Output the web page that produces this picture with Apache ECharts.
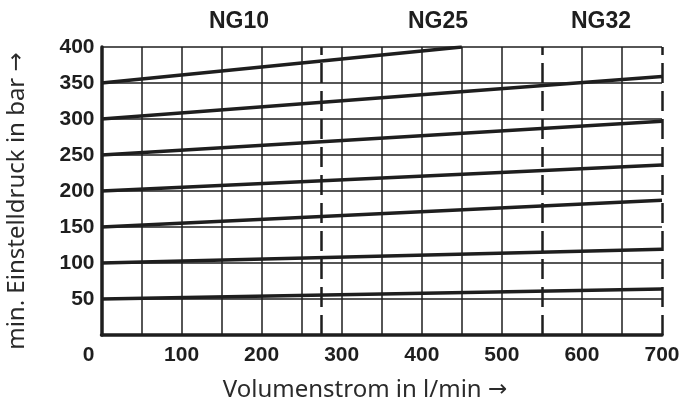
<!DOCTYPE html>
<html>
<head>
<meta charset="utf-8">
<script src="https://cdn.jsdelivr.net/npm/echarts@6/dist/echarts.min.js"></script>
<style>
html,body{margin:0;padding:0;background:#fff;}
#chart{width:685px;height:405px;}
</style>
</head>
<body>
<div id="chart"></div>
<script>
// Data
var line50  = [[0, 50], [700, 64]];
var line100 = [[0, 100], [700, 119]];
var line150 = [[0, 150], [700, 187]];
var line200 = [[0, 200], [700, 236]];
var line250 = [[0, 250], [700, 297]];
var line300 = [[0, 300], [700, 359]];
var line350 = [[0, 350], [450, 400]];
var ngBounds = [275, 550, 700];
var ngLabels = ['NG10', 'NG25', 'NG32'];
var xAxisName = 'Volumenstrom in l/min';
var yAxisName = 'min. Einstelldruck in bar';
var arrow = '→';

var ink = '#1e1e1e';
var lineWidth = 3.5;
var seriesList = [line50, line100, line150, line200, line250, line300, line350];

// split line colours: hide the solid grid line where a dashed boundary is drawn
var xSplitColors = [];
for (var v = 0; v <= 700; v += 50) {
  xSplitColors.push(ngBounds.indexOf(v) >= 0 ? 'rgba(0,0,0,0)' : ink);
}

var series = seriesList.map(function (d, i) {
  var s = {
    type: 'line',
    data: d,
    symbol: 'none',
    silent: true,
    lineStyle: { color: ink, width: lineWidth },
    z: 5
  };
  if (i === 0) {
    s.markLine = {
      silent: true,
      symbol: 'none',
      label: { show: false },
      lineStyle: { color: ink, width: 2.5, type: [20, 8] },
      data: ngBounds.map(function (b) { return { xAxis: b }; })
    };
  }
  return s;
});

var labelFont = { fontFamily: 'Liberation Sans, Arial, sans-serif', fontWeight: 'bold', fontSize: 21, color: ink };
var nameRich = {
  t: { fontFamily: 'Noto Sans', fontSize: 24, fill: '#2a2a2a', color: '#2a2a2a' },
  a: { fontFamily: 'DejaVu Sans', fontSize: 23, fill: '#2a2a2a', color: '#2a2a2a' }
};

var chart = echarts.init(document.getElementById('chart'), null, { renderer: 'canvas' });
chart.setOption({
  animation: false,
  backgroundColor: '#fff',
  grid: { left: 101.5, right: 23, top: 47, bottom: 70, containLabel: false },
  xAxis: {
    type: 'value', min: 0, max: 700, interval: 50,
    axisLine: { show: true, onZero: false, lineStyle: { color: ink, width: 3.5 } },
    axisTick: { show: false },
    splitLine: { show: true, lineStyle: { color: xSplitColors, width: 1.5 } },
    axisLabel: Object.assign({}, labelFont, {
      margin: 10,
      formatter: function (v) {
        if (v % 100 !== 0) return '';
        return v === 0 ? '{z|0}' : String(v);
      },
      rich: { z: Object.assign({}, labelFont, { padding: [0, 26, 0, 0] }) }
    })
  },
  yAxis: {
    type: 'value', min: 0, max: 400, interval: 50,
    axisLine: { show: true, onZero: false, lineStyle: { color: ink, width: 3.5 } },
    axisTick: { show: false },
    splitLine: { show: true, lineStyle: { color: ink, width: 1.5 } },
    axisLabel: Object.assign({}, labelFont, {
      margin: 7,
      formatter: function (v) { return v === 0 ? '' : String(v); }
    })
  },
  graphic: [
    { type: 'text', x: 239, y: 22, style: { text: ngLabels[0], fill: ink, font: 'bold 23px "Liberation Sans", Arial, sans-serif', align: 'center', verticalAlign: 'middle', textAlign: 'center', textVerticalAlign: 'middle' } },
    { type: 'text', x: 438, y: 22, style: { text: ngLabels[1], fill: ink, font: 'bold 23px "Liberation Sans", Arial, sans-serif', align: 'center', verticalAlign: 'middle', textAlign: 'center', textVerticalAlign: 'middle' } },
    { type: 'text', x: 601, y: 22, style: { text: ngLabels[2], fill: ink, font: 'bold 23px "Liberation Sans", Arial, sans-serif', align: 'center', verticalAlign: 'middle', textAlign: 'center', textVerticalAlign: 'middle' } },
    { type: 'text', x: 365, y: 390, style: { text: '{t|' + xAxisName + '} {a|' + arrow + '}', rich: nameRich, fill: '#2a2a2a', font: '24px "Noto Sans", sans-serif', align: 'center', verticalAlign: 'middle', textAlign: 'center', textVerticalAlign: 'middle' } },
    { type: 'text', x: 17, y: 201, rotation: Math.PI / 2, style: { text: '{t|' + yAxisName + '} {a|' + arrow + '}', rich: nameRich, fill: '#2a2a2a', font: '24px "Noto Sans", sans-serif', align: 'center', verticalAlign: 'middle', textAlign: 'center', textVerticalAlign: 'middle' } }
  ],
  series: series
});
</script>
</body>
</html>
